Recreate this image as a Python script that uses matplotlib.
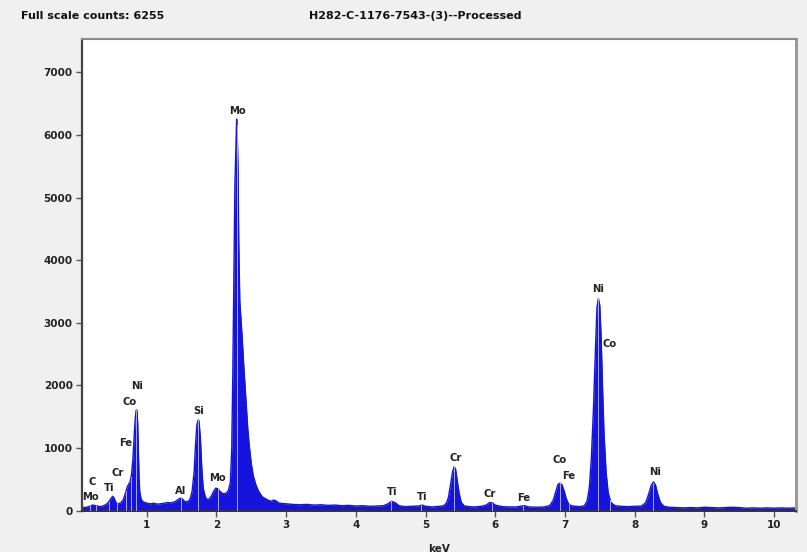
import numpy as np
import matplotlib
matplotlib.use("Agg")
import matplotlib.pyplot as plt

# ---- data (keV, counts) ----
energy_kev = [
    0.07, 0.10, 0.13, 0.16, 0.19, 0.22, 0.25, 0.28, 0.31, 0.34, 0.37, 0.40, 0.43, 0.46, 0.49,
    0.51, 0.53, 0.55, 0.57, 0.60, 0.63, 0.66, 0.68, 0.70, 0.72, 0.74, 0.76, 0.78, 0.80, 0.82,
    0.835, 0.85, 0.86, 0.87, 0.88, 0.89, 0.90, 0.92, 0.95, 1.00, 1.05, 1.10, 1.15, 1.20, 1.25,
    1.30, 1.35, 1.40, 1.44, 1.48, 1.51, 1.54, 1.58, 1.62, 1.65, 1.68, 1.70, 1.72, 1.74, 1.75,
    1.77, 1.79, 1.81, 1.84, 1.87, 1.90, 1.93, 1.96, 1.99, 2.02, 2.05, 2.08, 2.11, 2.14, 2.17,
    2.20, 2.22, 2.235, 2.25, 2.265, 2.28, 2.29, 2.30, 2.31, 2.32, 2.335, 2.35, 2.37, 2.39, 2.41,
    2.43, 2.45, 2.47, 2.50, 2.53, 2.57, 2.61, 2.66, 2.72, 2.78, 2.82, 2.85, 2.90, 3.00, 3.10,
    3.20, 3.30, 3.40, 3.50, 3.60, 3.70, 3.80, 3.90, 4.00, 4.10, 4.20, 4.30, 4.40, 4.46, 4.51,
    4.56, 4.62, 4.70, 4.80, 4.90, 4.95, 5.00, 5.10, 5.20, 5.26, 5.30, 5.33, 5.36, 5.39, 5.41,
    5.43, 5.45, 5.48, 5.51, 5.55, 5.62, 5.70, 5.80, 5.87, 5.92, 5.96, 6.00, 6.10, 6.20, 6.30,
    6.38, 6.42, 6.48, 6.60, 6.70, 6.78, 6.83, 6.87, 6.90, 6.93, 6.96, 6.99, 7.02, 7.05, 7.09,
    7.15, 7.22, 7.28, 7.32, 7.35, 7.38, 7.41, 7.44, 7.46, 7.48, 7.50, 7.52, 7.54, 7.56, 7.59,
    7.62, 7.66, 7.72, 7.80, 7.90, 8.00, 8.10, 8.16, 8.20, 8.24, 8.27, 8.30, 8.33, 8.37, 8.42,
    8.50, 8.60, 8.70, 8.80, 8.90, 9.00, 9.10, 9.20, 9.30, 9.40, 9.50, 9.60, 9.70, 9.80, 9.90,
    10.00, 10.10, 10.20, 10.31,
]
counts = [
    40, 55, 50, 65, 70, 90, 85, 75, 70, 65, 75, 90, 110, 150, 200,
    230, 210, 150, 120, 110, 130, 170, 230, 300, 380, 420, 460, 560, 800, 1200,
    1480, 1610, 1600, 1400, 950, 520, 300, 180, 140, 120, 110, 120, 105, 110, 120,
    130, 125, 140, 170, 200, 190, 150, 140, 180, 300, 620, 1050, 1380, 1450, 1430,
    1150, 680, 360, 220, 175, 190, 240, 310, 360, 350, 310, 280, 270, 280, 320,
    450, 1000, 2200, 3700, 5200, 5850, 6255, 5950, 5450, 4300, 3350, 3100, 2750, 2350, 2000,
    1650, 1300, 1050, 750, 550, 400, 300, 220, 180, 150, 170, 160, 120, 110, 100,
    95, 100, 90, 95, 85, 90, 80, 85, 75, 80, 70, 75, 80, 110, 150,
    130, 80, 65, 70, 75, 90, 70, 60, 70, 80, 120, 220, 420, 630, 700,
    670, 520, 290, 140, 80, 65, 60, 70, 90, 130, 125, 90, 65, 60, 60,
    75, 80, 60, 55, 60, 80, 160, 310, 420, 440, 410, 310, 190, 110, 80,
    70, 65, 80, 160, 370, 850, 1650, 2650, 3250, 3390, 3280, 2750, 1950, 1250, 620,
    290, 130, 80, 70, 65, 70, 75, 130, 260, 410, 460, 410, 270, 130, 70,
    55, 50, 45, 50, 45, 55, 50, 45, 50, 55, 50, 40, 45, 40, 45,
    40, 45, 40, 45,
]

# peak labels: (text, keV, counts)
label_text = ["Mo", "C", "Ti", "Cr", "Fe", "Co", "Ni", "Al", "Si", "Mo", "Mo",
              "Ti", "Ti", "Cr", "Cr", "Fe", "Co", "Fe", "Ni", "Co", "Ni"]
label_kev = [0.196, 0.219, 0.464, 0.578, 0.698, 0.760, 0.856, 1.492, 1.746, 2.019, 2.299,
             4.515, 4.954, 5.438, 5.925, 6.413, 6.930, 7.047, 7.479, 7.647, 8.292]
label_counts = [223, 463, 367, 596, 1085, 1731, 1997, 319, 1600, 518, 6386,
                303, 214, 837, 266, 208, 810, 554, 3535, 2662, 623]

# element line markers (keV)
marker_kev = [0.19, 0.277, 0.452, 0.573, 0.705, 0.776, 0.851, 1.486, 1.740, 2.016, 2.293,
              4.51, 4.93, 5.41, 5.95, 6.40, 6.93, 7.06, 7.48, 7.65, 8.26]

x_ticks = [1, 2, 3, 4, 5, 6, 7, 8, 9, 10]
y_ticks = [0, 1000, 2000, 3000, 4000, 5000, 6000, 7000]

full_scale_text = "Full scale counts: 6255"
title_text = "H282-C-1176-7543-(3)--Processed"
x_label = "keV"

# ---- figure ----
W, H = 807, 552
fig = plt.figure(figsize=(W / 100, H / 100), dpi=100, facecolor="#f0f0f0")
left, right, top, bottom = 81.7, 795.7, 39.3, 510.7
ax = fig.add_axes([left / W, 1 - bottom / H, (right - left) / W, (bottom - top) / H])
ax.set_facecolor("white")

blue = "#1414dc"
e = np.array(energy_kev)
c = np.array(counts)
ax.fill_between(e, 0, c, color=blue, linewidth=0, zorder=2)
ax.plot(e, c, color=blue, linewidth=1.0, zorder=2)

# marker lines inside the peaks
for mk in marker_kev:
    h = np.interp(mk, e, c)
    ax.plot([mk, mk], [0, h], color="#a8a8ff", linewidth=0.7, zorder=3)

for t, xk, yc in zip(label_text, label_kev, label_counts):
    ax.text(xk, yc, t, ha="center", va="center", fontsize=7.2, fontweight="bold",
            color="#222222", zorder=4)

ax.set_xlim(0.067, 10.311)
ax.set_ylim(0, 7530)
ax.set_xticks(x_ticks)
ax.set_yticks(y_ticks)
ax.set_xticklabels([str(v) for v in x_ticks])
ax.set_yticklabels([str(v) for v in y_ticks])
ax.tick_params(axis="both", direction="out", length=4, width=1, color="#555555",
               labelsize=7.5, labelcolor="#222222", pad=2.5)
for lab in ax.get_xticklabels() + ax.get_yticklabels():
    lab.set_fontweight("bold")

ax.spines["left"].set_color("#444444")
ax.spines["left"].set_linewidth(1.6)
ax.spines["bottom"].set_color("#333333")
ax.spines["bottom"].set_linewidth(1.4)
ax.spines["top"].set_color("#8a8a8a")
ax.spines["top"].set_linewidth(1.5)
ax.spines["right"].set_color("#9a9a9a")
ax.spines["right"].set_linewidth(2.2)

ax.set_xlabel(x_label, fontsize=7.5, fontweight="bold", color="#222222", labelpad=10)

fig.text(21 / W, 1 - 16 / H, full_scale_text, ha="left", va="center",
         fontsize=8, fontweight="bold", color="#111111")
fig.text(415 / W, 1 - 16 / H, title_text, ha="center", va="center",
         fontsize=8, fontweight="bold", color="#111111")

fig.savefig("out.png", dpi=100, facecolor=fig.get_facecolor())
